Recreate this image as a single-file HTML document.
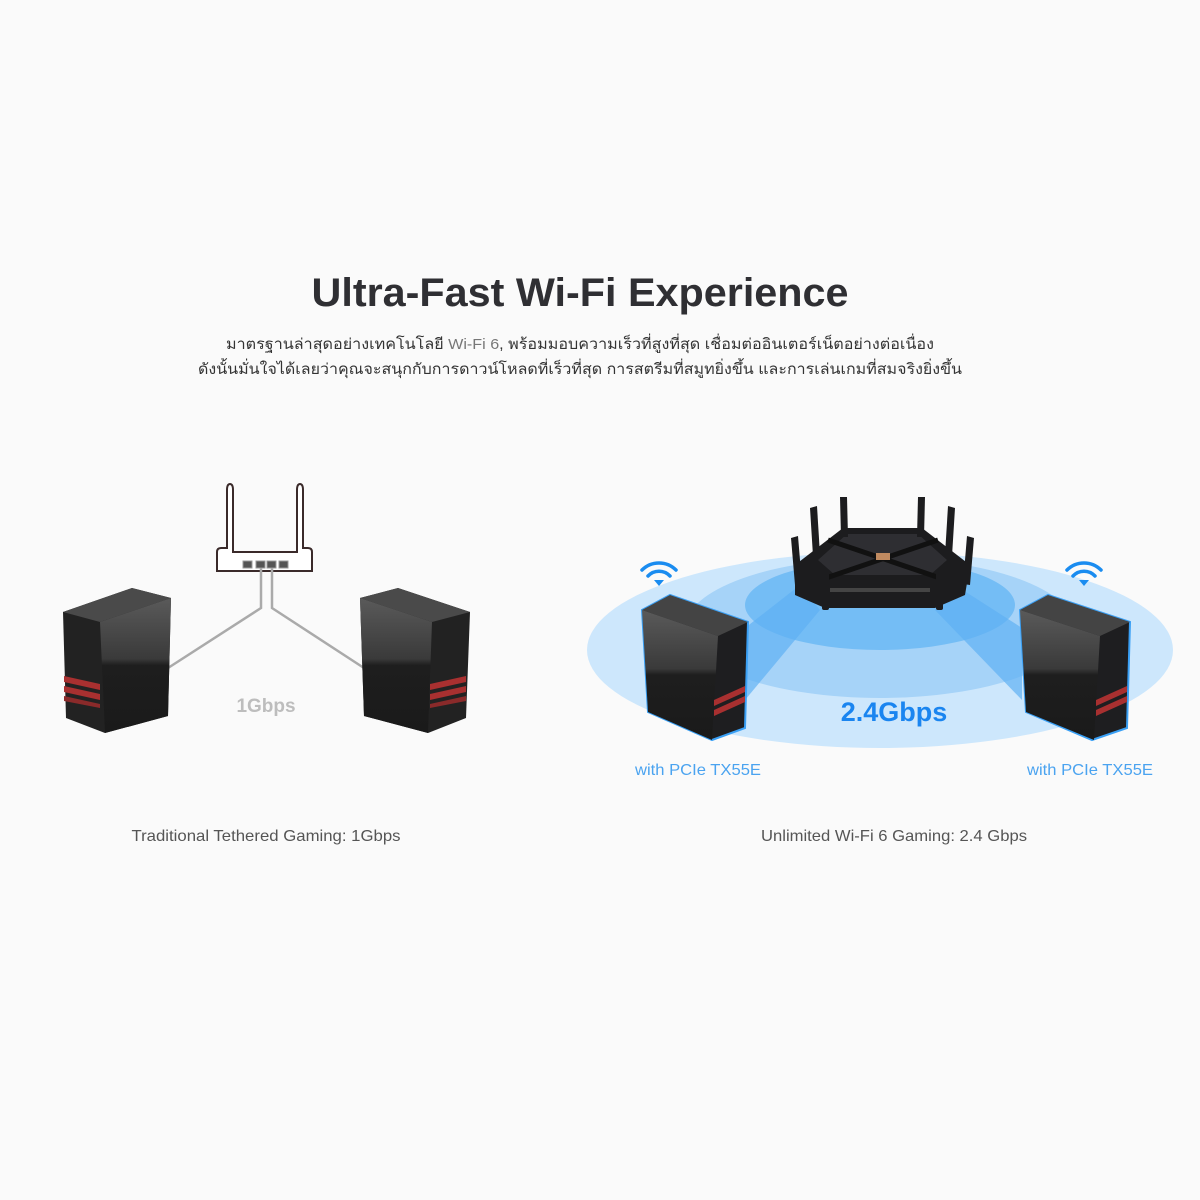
<!DOCTYPE html>
<html><head><meta charset="utf-8"><style>
html,body{margin:0;padding:0;background:#fafafa}
svg{display:block}
text{font-family:"Liberation Sans","DejaVu Sans",sans-serif}
</style></head><body>
<svg width="1200" height="1200" viewBox="0 0 1200 1200" xmlns="http://www.w3.org/2000/svg">
<defs>
<linearGradient id="gl" x1="0" y1="0" x2="0" y2="1"><stop offset="0" stop-color="#5a5a5a"/><stop offset="0.45" stop-color="#3a3a3a"/><stop offset="0.5" stop-color="#1e1e1e"/><stop offset="1" stop-color="#1a1a1a"/></linearGradient>
</defs>
<rect width="1200" height="1200" fill="#fafafa"/>
<text x="580" y="306" font-size="40" font-weight="bold" fill="#2f2f33" text-anchor="middle" textLength="537" lengthAdjust="spacingAndGlyphs">Ultra-Fast Wi-Fi Experience</text>
<text x="580" y="349" font-size="15" fill="#333" text-anchor="middle" textLength="708" lengthAdjust="spacingAndGlyphs">มาตรฐานล่าสุดอย่างเทคโนโลยี <tspan fill="#777">Wi-Fi 6</tspan>, พร้อมมอบความเร็วที่สูงที่สุด เชื่อมต่ออินเตอร์เน็ตอย่างต่อเนื่อง</text>
<text x="580" y="374" font-size="15" fill="#333" text-anchor="middle" textLength="764" lengthAdjust="spacingAndGlyphs">ดังนั้นมั่นใจได้เลยว่าคุณจะสนุกกับการดาวน์โหลดที่เร็วที่สุด การสตรีมที่สมูทยิ่งขึ้น และการเล่นเกมที่สมจริงยิ่งขึ้น</text>

<!-- LEFT DIAGRAM -->
<g fill="#fff" stroke="#3a2a2a" stroke-width="2">
<path d="M217,571 L217,552 Q217,548 221,548 L227,548 L227,490 Q227,484 230,484 Q233,484 233,490 L233,552 L297,552 L297,490 Q297,484 300,484 Q303,484 303,490 L303,548 L308,548 Q312,548 312,552 L312,571 Z"/>
</g>
<g fill="#555" stroke="#999" stroke-width="1">
<rect x="243" y="561" width="9" height="7"/><rect x="256" y="561" width="9" height="7"/><rect x="267" y="561" width="9" height="7"/><rect x="279" y="561" width="9" height="7"/>
</g>
<polyline points="261,568 261,608 168,668" fill="none" stroke="#aaa" stroke-width="2.5"/>
<polyline points="272,568 272,608 364,668" fill="none" stroke="#aaa" stroke-width="2.5"/>
<text x="266" y="712" font-size="19" font-weight="bold" fill="#bdbdbd" text-anchor="middle">1Gbps</text>

<g>
<polygon points="63,612 132,588 171,598 168,716 105,733 66,718" fill="#222"/>
<polygon points="63,612 132,588 171,598 100,622" fill="#4a4a4a"/>
<polygon points="100,622 171,598 168,716 105,733" fill="url(#gl)"/>
<polygon points="64,676 100,684 100,690 64,682" fill="#a83030"/>
<polygon points="64,686 100,694 100,700 64,692" fill="#a83030"/>
<polygon points="64,696 100,704 100,708 64,701" fill="#8a2a2a"/>
</g>
<g>
<polygon points="360,598 398,588 470,612 466,718 428,733 364,716" fill="#222"/>
<polygon points="360,598 398,588 470,612 432,622" fill="#4a4a4a"/>
<polygon points="360,598 432,622 428,733 364,716" fill="url(#gl)"/>
<polygon points="430,684 466,676 466,682 430,690" fill="#a83030"/>
<polygon points="430,694 466,686 466,692 430,700" fill="#a83030"/>
<polygon points="430,704 466,696 466,701 430,708" fill="#8a2a2a"/>
</g>
<text x="266" y="841" font-size="16" fill="#555" text-anchor="middle" textLength="269" lengthAdjust="spacingAndGlyphs">Traditional Tethered Gaming: 1Gbps</text>

<!-- RIGHT DIAGRAM -->
<ellipse cx="880" cy="650" rx="293" ry="98" fill="#cde7fc"/>
<ellipse cx="880" cy="628" rx="195" ry="70" fill="#a6d3f8"/>
<ellipse cx="880" cy="605" rx="135" ry="45" fill="#74bdf5"/>
<polygon points="800,585 745,628 745,700 820,610" fill="#5fb0f4" opacity="0.7"/>
<polygon points="955,585 1022,628 1022,700 935,610" fill="#5fb0f4" opacity="0.7"/>
<g>
<polygon points="795,565 843,528 922,528 970,565 965,595 935,608 825,608 795,595" fill="#1c1c1e"/>
<polygon points="818,560 847,534 918,534 947,560 930,575 835,575" fill="#2e2e32"/>
<line x1="828" y1="540" x2="940" y2="578" stroke="#111" stroke-width="5"/>
<line x1="938" y1="540" x2="826" y2="578" stroke="#111" stroke-width="5"/>
<rect x="876" y="553" width="14" height="7" fill="#c08a60"/>
<rect x="830" y="588" width="100" height="4" fill="#444"/>
<g fill="#1c1c1e">
<polygon points="791,538 798,536 802,584 795,585"/>
<polygon points="810,508 817,506 820,555 813,556"/>
<polygon points="840,497 847,497 848,537 841,537"/>
<polygon points="918,497 925,497 924,537 917,537"/>
<polygon points="948,506 955,508 952,556 945,555"/>
<polygon points="967,536 974,538 970,585 963,584"/>
<rect x="822" y="570" width="7" height="40" rx="2"/>
<rect x="936" y="570" width="7" height="40" rx="2"/>
</g>
</g>
<g>
<polygon points="642,610 670,595 748,622 745,728 712,740 648,712" fill="#1e1e20" stroke="#3aa0f5" stroke-width="2"/>
<polygon points="642,610 670,595 748,622 718,636" fill="#444"/>
<polygon points="642,610 718,636 712,740 648,712" fill="url(#gl)"/>
<polygon points="714,700 745,686 745,692 714,706" fill="#a83030"/>
<polygon points="714,710 745,696 745,702 714,716" fill="#a83030"/>
</g>
<g>
<polygon points="1020,610 1048,595 1130,622 1127,728 1092,740 1026,712" fill="#1e1e20" stroke="#3aa0f5" stroke-width="2"/>
<polygon points="1020,610 1048,595 1130,622 1100,636" fill="#444"/>
<polygon points="1020,610 1100,636 1094,740 1026,712" fill="url(#gl)"/>
<polygon points="1096,700 1127,686 1127,692 1096,706" fill="#a83030"/>
<polygon points="1096,710 1127,696 1127,702 1096,716" fill="#a83030"/>
</g>
<g fill="none" stroke="#1a8cf0" stroke-width="3.5" stroke-linecap="round">
<path d="M642,570 A24,24 0 0 1 676,570"/><path d="M648,576 A15,15 0 0 1 670,576"/>
<path d="M1067,570 A24,24 0 0 1 1101,570"/><path d="M1073,576 A15,15 0 0 1 1095,576"/>
</g>
<polygon points="654,580 664,580 659,586" fill="#1a8cf0"/>
<polygon points="1079,580 1089,580 1084,586" fill="#1a8cf0"/>
<text x="894" y="721" font-size="27" font-weight="bold" fill="#1a85f0" text-anchor="middle">2.4Gbps</text>
<text x="698" y="775" font-size="16" fill="#4aa3f0" text-anchor="middle" textLength="126" lengthAdjust="spacingAndGlyphs">with PCIe TX55E</text>
<text x="1090" y="775" font-size="16" fill="#4aa3f0" text-anchor="middle" textLength="126" lengthAdjust="spacingAndGlyphs">with PCIe TX55E</text>
<text x="894" y="841" font-size="16" fill="#555" text-anchor="middle" textLength="266" lengthAdjust="spacingAndGlyphs">Unlimited Wi-Fi 6 Gaming: 2.4 Gbps</text>
</svg>
</body></html>
